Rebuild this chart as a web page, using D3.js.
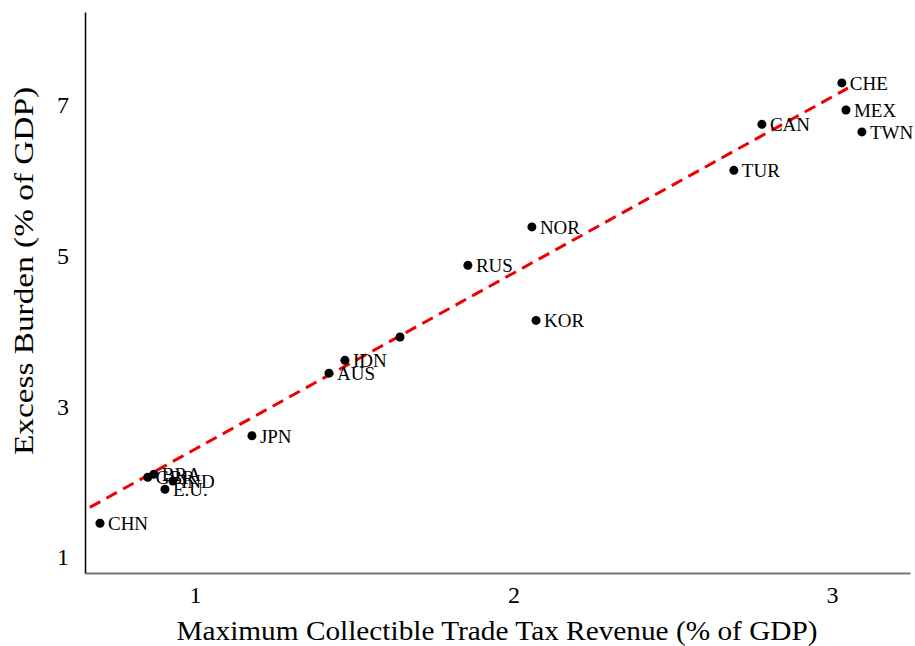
<!DOCTYPE html>
<html>
<head>
<meta charset="utf-8">
<script src="https://cdn.jsdelivr.net/npm/d3@7"></script>
<style>
  body { margin: 0; background: #fff; }
  svg { display: block; font-family: "Liberation Serif", "Times New Roman", serif; }
</style>
</head>
<body>
<div id="chart"></div>
<script>
/*
 * data
 */
const countries = ['CHN', 'GBR', 'BRA', 'E.U.', 'IND', 'JPN', 'AUS', 'IDN', '', 'RUS', 'NOR', 'KOR', 'TUR', 'CAN', 'CHE', 'MEX', 'TWN']
const revenue = [0.702, 0.852, 0.871, 0.906, 0.931, 1.179, 1.421, 1.471, 1.644, 1.857, 2.058, 2.071, 2.692, 2.780, 3.031, 3.044, 3.094]
const burden = [1.45, 2.06, 2.10, 1.90, 2.01, 2.61, 3.44, 3.61, 3.92, 4.87, 5.38, 4.14, 6.13, 6.74, 7.29, 6.93, 6.64]

const xTicks = [1, 2, 3]
const yTicks = [1, 3, 5, 7]

// dashed fit line endpoints
const fitX = [0.67, 3.05]
const fitY = [1.66, 7.22]

/*
 * set up svg
 */
const w = 915
const h = 646
const svg = d3.select('#chart')
  .append('svg')
  .attr('width', w)
  .attr('height', h)

const x = d3.scaleLinear().domain([0.655, 3.245]).range([85, 910])
const y = d3.scaleLinear().domain([0.79, 8.23]).range([573, 12])

const points = countries.map((c, i) => ({ name: c, x: revenue[i], y: burden[i] }))

// axes (no tick marks, just labels)
svg.append('g')
  .attr('transform', `translate(0,${y.range()[0]})`)
  .call(d3.axisBottom(x).tickValues(xTicks).tickSize(0).tickPadding(13).tickFormat(d3.format('d')))
  .call(g => g.select('.domain').attr('stroke', '#777').attr('stroke-width', 2))
  .call(g => g.selectAll('text').attr('font-size', 24).attr('fill', '#000').attr('font-family', 'Liberation Serif'))

svg.append('g')
  .attr('transform', `translate(${x.range()[0]},0)`)
  .call(d3.axisLeft(y).tickValues(yTicks).tickSize(0).tickPadding(16).tickFormat(d3.format('d')))
  .call(g => g.select('.domain').attr('stroke', '#000').attr('stroke-width', 1.5))
  .call(g => g.selectAll('text').attr('font-size', 24).attr('fill', '#000').attr('font-family', 'Liberation Serif'))

// fit line
svg.append('line')
  .attr('x1', x(fitX[0]))
  .attr('y1', y(fitY[0]))
  .attr('x2', x(fitX[1]))
  .attr('y2', y(fitY[1]))
  .attr('stroke', '#ee0000')
  .attr('stroke-width', 3)
  .attr('stroke-dasharray', '12,7')

// points
svg.append('g')
  .selectAll('circle')
  .data(points)
  .enter()
  .append('circle')
  .attr('cx', d => x(d.x))
  .attr('cy', d => y(d.y))
  .attr('r', 4.5)
  .attr('fill', '#000')

svg.append('g')
  .selectAll('text')
  .data(points)
  .enter()
  .append('text')
  .attr('x', d => x(d.x) + 8)
  .attr('y', d => y(d.y) + 7)
  .attr('font-size', 19)
  .text(d => d.name)

// axis titles
svg.append('text')
  .attr('x', 497)
  .attr('y', 640)
  .attr('text-anchor', 'middle')
  .attr('font-size', 27)
  .attr('textLength', 641)
  .attr('lengthAdjust', 'spacingAndGlyphs')
  .text('Maximum Collectible Trade Tax Revenue (% of GDP)')

svg.append('text')
  .attr('transform', 'translate(33,271) rotate(-90)')
  .attr('text-anchor', 'middle')
  .attr('font-size', 28)
  .attr('textLength', 368)
  .attr('lengthAdjust', 'spacingAndGlyphs')
  .text('Excess Burden (% of GDP)')
</script>
</body>
</html>
